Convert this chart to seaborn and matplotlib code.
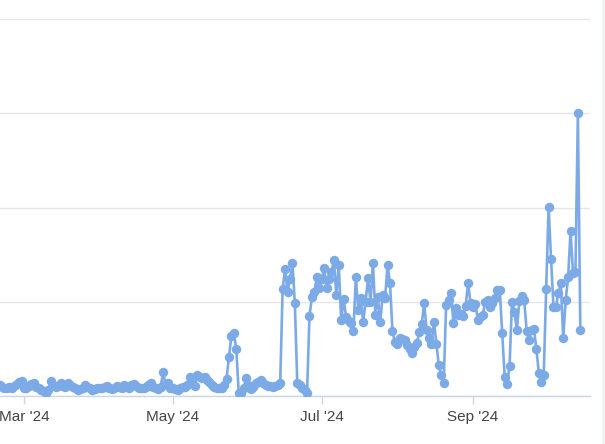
import matplotlib
matplotlib.use("Agg")
import matplotlib.pyplot as plt
import matplotlib.dates as mdates
from matplotlib.patches import Rectangle
import pandas as pd
import seaborn as sns

# ---- data (daily values, starting 2024-02-20) ----
feb_vals = [5.8, 5, 4.2, 4, 4.8, 4.5, 5.5, 6.5, 7.4, 8]
mar_vals = [4.5, 4.2, 5.5, 6.5, 6.9, 5, 4, 3.2, 2.5, 1.6, 3, 8, 6, 4.8, 5.5, 6.9,
            5.5, 5, 6.9, 6, 5, 4, 3.2, 3.5, 4.5, 5.8, 5, 4, 3.2, 3.5, 4.2]
apr_vals = [4.5, 4, 4.8, 5.3, 4.5, 3.8, 4.5, 5.3, 4.8, 4.2, 5.8, 5, 4.5, 6, 6.4,
            5.5, 4.2, 4, 4.5, 5, 6, 6.9, 5, 4.2, 3.5, 4.8, 12.7, 6.4, 6.9, 4.5]
may_vals = [4, 3.5, 3.2, 4, 5, 4.8, 5.8, 10, 7, 5.3, 11, 10, 9.5, 10, 8.5, 7.4,
            5.8, 4.8, 4.2, 4.5, 4.5, 5.8, 9, 20.7, 31.8, 33.4, 25, 1.6, 1.6, 4, 9.5]
jun_vals = [6, 3.7, 5, 6.9, 7.5, 8.5, 7, 5.8, 5.5, 5.3, 5, 5.5, 5.8, 6.9, 56.8,
            67.4, 55.2, 62, 70.6, 49.3, 7, 5.8, 4.2, 3, 1.6, 42.4, 52.5, 55.2, 63.1, 57.3]
jul_vals = [62, 67.9, 57.3, 62, 66, 72.1, 53.6, 69.5, 40.3, 51.5, 41.9, 40, 38.7,
            34.5, 63.1, 45.6, 52, 39.3, 50, 62.6, 49.9, 70.6, 43, 52.5, 39.3, 53.6,
            52, 69.5, 59.9, 34.5, 28.6]
aug_vals = [27.6, 30.8, 30, 29.7, 27.1, 25, 22.8, 26, 28.1, 34, 38, 49.3, 35, 31,
            27.6, 39.3, 27.6, 16.4, 11.1, 6.9, 48.3, 50.9, 54.6, 38.7, 46.7, 43,
            43.5, 42.4, 47.7, 60, 49.3]
sep_vals = [47.2, 48.8, 40.3, 42, 43, 49.9, 50.9, 47.2, 49.3, 52, 56.2, 56.2, 33.4,
            10.1, 6.4, 15.9, 49.9, 44.6, 35, 50.4, 53, 50.9, 34.5, 29.7, 35, 35.5,
            24.9, 12.2, 7.4, 11.1]
oct_vals = [56.8, 100.3, 72.7, 47.2, 47.2, 54.6, 59.9, 30.8, 50.9, 63.1, 87.5,
            65.3, 65.8, 150.1, 35]

tick_dates = ["2024-03-01", "2024-05-01", "2024-07-01", "2024-09-01"]
tick_labels = ["Mar '24", "May '24", "Jul '24", "Sep '24"]
grid_values = [0, 50, 100, 150, 200]

values = (feb_vals + mar_vals + apr_vals + may_vals + jun_vals + jul_vals
          + aug_vals + sep_vals + oct_vals)
dates = pd.date_range("2024-02-20", periods=len(values), freq="D")
df = pd.DataFrame({"date": dates, "value": values})

LINE = "#7caae6"

sns.set_theme(style="white")
plt.rcParams["font.family"] = ["Liberation Sans", "DejaVu Sans"]

fig = plt.figure(figsize=(6.05, 4.44), dpi=100)
fig.patch.set_facecolor("white")
ax = fig.add_axes([0, 48 / 444, 590 / 605, 396 / 444])
ax.set_facecolor("none")

sns.lineplot(data=df, x="date", y="value", ax=ax, color=LINE, linewidth=1.9,
             marker="o", markersize=6.8, markeredgewidth=0, markeredgecolor=LINE,
             zorder=3)

x0 = mdates.date2num(pd.Timestamp("2024-03-01"))
ax.set_xlim(x0 - 24 / 2.44, x0 + 566 / 2.44)
ax.set_ylim(0, 210.1)

ax.set_yticks(grid_values)
ax.yaxis.grid(True, color="#e6e6e6", linewidth=1)
ax.xaxis.grid(False)
ax.set_axisbelow(True)
ax.tick_params(axis="y", left=False, labelleft=False)

ax.set_xticks([mdates.date2num(pd.Timestamp(d)) for d in tick_dates])
ax.set_xticklabels(tick_labels)
ax.tick_params(axis="x", bottom=True, length=5.8, width=1, color="#ccd6eb",
               labelsize=11, labelcolor="#444444", pad=4)

for s in ["top", "left", "right"]:
    ax.spines[s].set_visible(False)
ax.spines["bottom"].set_color("#ccd6eb")
ax.spines["bottom"].set_linewidth(1)
ax.set_xlabel("")
ax.set_ylabel("")

fig.patches.append(Rectangle((602 / 605, 0), 3 / 605, 1, transform=fig.transFigure,
                             facecolor="#f3f4f8", edgecolor="none"))

fig.savefig("out.png", dpi=100)
